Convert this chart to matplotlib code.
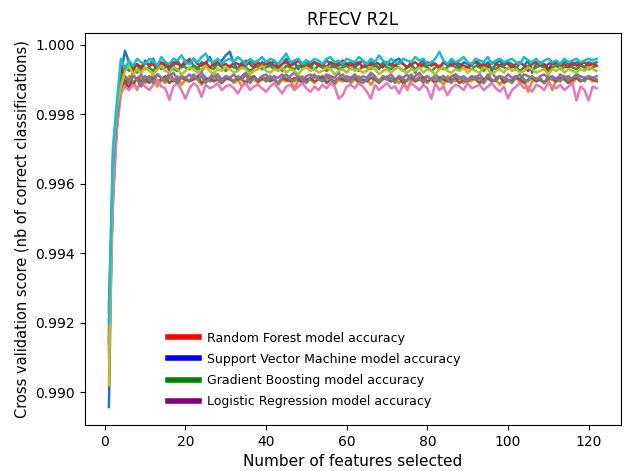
import matplotlib.pyplot as plt
import numpy as np
from matplotlib.lines import Line2D

# number of features selected, 1..122
n_features = np.arange(1, 123)

# RFECV cv scores per fold
fold_0 = [0.98957, 0.99660, 0.99810, 0.99920, 0.99983, 0.99950, 0.99930, 0.99945, 0.99920, 0.99955,
          0.99940, 0.99960, 0.99930, 0.99945, 0.99950, 0.99925, 0.99940, 0.99955, 0.99935, 0.99945,
          0.99960, 0.99940, 0.99930, 0.99950, 0.99945, 0.99965, 0.99940, 0.99950, 0.99955, 0.99970,
          0.99980, 0.99945, 0.99930, 0.99950, 0.99940, 0.99955, 0.99945, 0.99935, 0.99950, 0.99945,
          0.99940, 0.99955, 0.99935, 0.99945, 0.99960, 0.99940, 0.99950, 0.99930, 0.99945, 0.99955,
          0.99935, 0.99950, 0.99945, 0.99940, 0.99955, 0.99945, 0.99935, 0.99950, 0.99940, 0.99945,
          0.99950, 0.99935, 0.99945, 0.99955, 0.99940, 0.99950, 0.99945, 0.99930, 0.99950, 0.99945,
          0.99940, 0.99955, 0.99960, 0.99945, 0.99935, 0.99950, 0.99920, 0.99945, 0.99955, 0.99940,
          0.99950, 0.99945, 0.99930, 0.99950, 0.99940, 0.99955, 0.99945, 0.99935, 0.99950, 0.99945,
          0.99940, 0.99960, 0.99945, 0.99935, 0.99950, 0.99925, 0.99945, 0.99955, 0.99940, 0.99950,
          0.99945, 0.99930, 0.99950, 0.99940, 0.99955, 0.99920, 0.99945, 0.99950, 0.99935, 0.99945,
          0.99950, 0.99940, 0.99930, 0.99955, 0.99945, 0.99940, 0.99950, 0.99945, 0.99935, 0.99950,
          0.99945, 0.99950]
fold_1 = [0.99120, 0.99620, 0.99760, 0.99900, 0.99880, 0.99910, 0.99895, 0.99870, 0.99905, 0.99890,
          0.99900, 0.99915, 0.99880, 0.99900, 0.99890, 0.99905, 0.99895, 0.99910, 0.99885, 0.99900,
          0.99895, 0.99910, 0.99900, 0.99885, 0.99905, 0.99895, 0.99900, 0.99915, 0.99890, 0.99900,
          0.99905, 0.99890, 0.99900, 0.99880, 0.99895, 0.99910, 0.99900, 0.99890, 0.99905, 0.99895,
          0.99900, 0.99910, 0.99885, 0.99900, 0.99895, 0.99905, 0.99870, 0.99900, 0.99910, 0.99895,
          0.99900, 0.99890, 0.99905, 0.99895, 0.99900, 0.99910, 0.99885, 0.99900, 0.99895, 0.99905,
          0.99890, 0.99900, 0.99910, 0.99895, 0.99900, 0.99885, 0.99905, 0.99895, 0.99900, 0.99910,
          0.99895, 0.99900, 0.99890, 0.99905, 0.99870, 0.99900, 0.99895, 0.99910, 0.99900, 0.99890,
          0.99905, 0.99895, 0.99900, 0.99885, 0.99910, 0.99900, 0.99895, 0.99905, 0.99890, 0.99900,
          0.99895, 0.99910, 0.99900, 0.99890, 0.99905, 0.99895, 0.99900, 0.99885, 0.99905, 0.99895,
          0.99900, 0.99910, 0.99890, 0.99900, 0.99865, 0.99895, 0.99905, 0.99900, 0.99890, 0.99900,
          0.99870, 0.99900, 0.99895, 0.99910, 0.99900, 0.99890, 0.99905, 0.99895, 0.99900, 0.99905,
          0.99895, 0.99900]
fold_2 = [0.99150, 0.99640, 0.99790, 0.99905, 0.99940, 0.99925, 0.99935, 0.99920, 0.99940, 0.99930,
          0.99935, 0.99925, 0.99940, 0.99930, 0.99935, 0.99945, 0.99930, 0.99925, 0.99940, 0.99935,
          0.99930, 0.99940, 0.99935, 0.99925, 0.99940, 0.99935, 0.99930, 0.99945, 0.99935, 0.99925,
          0.99940, 0.99935, 0.99930, 0.99940, 0.99935, 0.99925, 0.99935, 0.99940, 0.99930, 0.99935,
          0.99940, 0.99930, 0.99935, 0.99925, 0.99940, 0.99935, 0.99930, 0.99940, 0.99935, 0.99945,
          0.99935, 0.99930, 0.99940, 0.99935, 0.99925, 0.99935, 0.99940, 0.99930, 0.99935, 0.99940,
          0.99930, 0.99935, 0.99925, 0.99940, 0.99935, 0.99930, 0.99940, 0.99935, 0.99945, 0.99935,
          0.99930, 0.99940, 0.99935, 0.99925, 0.99935, 0.99940, 0.99930, 0.99935, 0.99940, 0.99935,
          0.99925, 0.99935, 0.99940, 0.99930, 0.99935, 0.99945, 0.99935, 0.99930, 0.99940, 0.99935,
          0.99930, 0.99940, 0.99935, 0.99925, 0.99940, 0.99935, 0.99930, 0.99940, 0.99935, 0.99930,
          0.99940, 0.99935, 0.99925, 0.99935, 0.99940, 0.99930, 0.99935, 0.99940, 0.99935, 0.99925,
          0.99935, 0.99940, 0.99930, 0.99935, 0.99940, 0.99935, 0.99930, 0.99940, 0.99935, 0.99930,
          0.99935, 0.99940]
fold_3 = [0.99230, 0.99550, 0.99800, 0.99950, 0.99900, 0.99870, 0.99930, 0.99945, 0.99935, 0.99950,
          0.99940, 0.99945, 0.99930, 0.99950, 0.99940, 0.99935, 0.99950, 0.99945, 0.99940, 0.99955,
          0.99950, 0.99960, 0.99945, 0.99940, 0.99950, 0.99935, 0.99945, 0.99950, 0.99940, 0.99945,
          0.99935, 0.99950, 0.99945, 0.99940, 0.99955, 0.99945, 0.99935, 0.99950, 0.99940, 0.99945,
          0.99950, 0.99940, 0.99935, 0.99945, 0.99950, 0.99940, 0.99945, 0.99955, 0.99940, 0.99935,
          0.99945, 0.99950, 0.99940, 0.99945, 0.99935, 0.99950, 0.99945, 0.99940, 0.99955, 0.99945,
          0.99940, 0.99945, 0.99950, 0.99935, 0.99945, 0.99940, 0.99950, 0.99945, 0.99935, 0.99950,
          0.99945, 0.99940, 0.99950, 0.99945, 0.99935, 0.99945, 0.99950, 0.99940, 0.99945, 0.99950,
          0.99940, 0.99945, 0.99935, 0.99950, 0.99945, 0.99940, 0.99950, 0.99945, 0.99940, 0.99935,
          0.99945, 0.99950, 0.99940, 0.99945, 0.99935, 0.99950, 0.99945, 0.99940, 0.99950, 0.99945,
          0.99935, 0.99945, 0.99950, 0.99940, 0.99925, 0.99945, 0.99950, 0.99940, 0.99945, 0.99930,
          0.99945, 0.99950, 0.99940, 0.99945, 0.99935, 0.99950, 0.99940, 0.99945, 0.99950, 0.99940,
          0.99945, 0.99940]
fold_4 = [0.99180, 0.99600, 0.99780, 0.99870, 0.99905, 0.99890, 0.99910, 0.99900, 0.99915, 0.99895,
          0.99910, 0.99900, 0.99915, 0.99905, 0.99895, 0.99910, 0.99920, 0.99900, 0.99910, 0.99905,
          0.99915, 0.99900, 0.99910, 0.99920, 0.99905, 0.99895, 0.99910, 0.99915, 0.99900, 0.99910,
          0.99905, 0.99915, 0.99900, 0.99910, 0.99920, 0.99905, 0.99910, 0.99895, 0.99910, 0.99915,
          0.99900, 0.99910, 0.99905, 0.99915, 0.99900, 0.99910, 0.99920, 0.99905, 0.99895, 0.99910,
          0.99915, 0.99905, 0.99910, 0.99900, 0.99915, 0.99910, 0.99905, 0.99920, 0.99900, 0.99910,
          0.99905, 0.99915, 0.99900, 0.99910, 0.99905, 0.99920, 0.99910, 0.99895, 0.99910, 0.99905,
          0.99915, 0.99900, 0.99910, 0.99905, 0.99915, 0.99900, 0.99910, 0.99920, 0.99905, 0.99910,
          0.99900, 0.99915, 0.99905, 0.99910, 0.99895, 0.99910, 0.99915, 0.99905, 0.99910, 0.99900,
          0.99910, 0.99905, 0.99915, 0.99900, 0.99910, 0.99920, 0.99905, 0.99910, 0.99900, 0.99915,
          0.99905, 0.99910, 0.99900, 0.99915, 0.99910, 0.99905, 0.99895, 0.99910, 0.99915, 0.99905,
          0.99910, 0.99900, 0.99915, 0.99905, 0.99910, 0.99900, 0.99915, 0.99910, 0.99905, 0.99910,
          0.99905, 0.99910]
fold_5 = [0.99140, 0.99580, 0.99770, 0.99880, 0.99895, 0.99900, 0.99885, 0.99905, 0.99895, 0.99900,
          0.99890, 0.99905, 0.99895, 0.99900, 0.99910, 0.99890, 0.99900, 0.99895, 0.99905, 0.99900,
          0.99895, 0.99900, 0.99910, 0.99890, 0.99900, 0.99905, 0.99895, 0.99900, 0.99890, 0.99905,
          0.99900, 0.99895, 0.99905, 0.99900, 0.99890, 0.99900, 0.99910, 0.99895, 0.99900, 0.99905,
          0.99895, 0.99900, 0.99890, 0.99905, 0.99900, 0.99895, 0.99905, 0.99900, 0.99890, 0.99900,
          0.99905, 0.99895, 0.99900, 0.99910, 0.99890, 0.99900, 0.99895, 0.99905, 0.99900, 0.99895,
          0.99900, 0.99905, 0.99890, 0.99900, 0.99895, 0.99905, 0.99900, 0.99890, 0.99905, 0.99900,
          0.99895, 0.99900, 0.99905, 0.99890, 0.99900, 0.99910, 0.99895, 0.99900, 0.99905, 0.99895,
          0.99900, 0.99890, 0.99905, 0.99900, 0.99895, 0.99900, 0.99905, 0.99890, 0.99900, 0.99895,
          0.99905, 0.99900, 0.99890, 0.99900, 0.99905, 0.99895, 0.99900, 0.99910, 0.99890, 0.99900,
          0.99895, 0.99905, 0.99900, 0.99890, 0.99900, 0.99905, 0.99895, 0.99900, 0.99890, 0.99905,
          0.99900, 0.99895, 0.99905, 0.99900, 0.99890, 0.99900, 0.99905, 0.99895, 0.99900, 0.99905,
          0.99900, 0.99895]
fold_6 = [0.99100, 0.99540, 0.99760, 0.99860, 0.99880, 0.99870, 0.99885, 0.99875, 0.99890, 0.99880,
          0.99870, 0.99885, 0.99900, 0.99880, 0.99875, 0.99842, 0.99880, 0.99890, 0.99870, 0.99845,
          0.99875, 0.99890, 0.99880, 0.99850, 0.99885, 0.99875, 0.99880, 0.99890, 0.99870, 0.99880,
          0.99885, 0.99875, 0.99860, 0.99880, 0.99890, 0.99870, 0.99880, 0.99885, 0.99875, 0.99865,
          0.99880, 0.99890, 0.99875, 0.99860, 0.99880, 0.99885, 0.99870, 0.99880, 0.99890, 0.99875,
          0.99865, 0.99880, 0.99870, 0.99885, 0.99875, 0.99890, 0.99880, 0.99845, 0.99855, 0.99880,
          0.99885, 0.99875, 0.99890, 0.99880, 0.99865, 0.99845, 0.99885, 0.99870, 0.99880, 0.99890,
          0.99875, 0.99880, 0.99860, 0.99885, 0.99875, 0.99890, 0.99880, 0.99870, 0.99885, 0.99875,
          0.99845, 0.99890, 0.99870, 0.99880, 0.99855, 0.99875, 0.99885, 0.99880, 0.99870, 0.99890,
          0.99875, 0.99880, 0.99885, 0.99870, 0.99880, 0.99890, 0.99875, 0.99865, 0.99880, 0.99845,
          0.99870, 0.99880, 0.99890, 0.99875, 0.99880, 0.99865, 0.99885, 0.99880, 0.99870, 0.99890,
          0.99880, 0.99875, 0.99885, 0.99870, 0.99880, 0.99890, 0.99840, 0.99880, 0.99870, 0.99840,
          0.99880, 0.99875]
fold_7 = [0.99250, 0.99650, 0.99790, 0.99890, 0.99910, 0.99895, 0.99915, 0.99900, 0.99880, 0.99910,
          0.99900, 0.99890, 0.99915, 0.99905, 0.99895, 0.99920, 0.99900, 0.99890, 0.99910, 0.99905,
          0.99895, 0.99915, 0.99900, 0.99910, 0.99890, 0.99905, 0.99920, 0.99900, 0.99895, 0.99910,
          0.99905, 0.99895, 0.99910, 0.99900, 0.99915, 0.99890, 0.99905, 0.99900, 0.99910, 0.99895,
          0.99910, 0.99900, 0.99890, 0.99905, 0.99915, 0.99900, 0.99895, 0.99910, 0.99905, 0.99890,
          0.99905, 0.99915, 0.99900, 0.99895, 0.99910, 0.99900, 0.99890, 0.99905, 0.99915, 0.99900,
          0.99895, 0.99910, 0.99905, 0.99890, 0.99900, 0.99915, 0.99905, 0.99895, 0.99910, 0.99900,
          0.99905, 0.99890, 0.99910, 0.99900, 0.99895, 0.99915, 0.99900, 0.99905, 0.99890, 0.99910,
          0.99900, 0.99905, 0.99895, 0.99910, 0.99900, 0.99890, 0.99915, 0.99905, 0.99900, 0.99895,
          0.99910, 0.99900, 0.99905, 0.99890, 0.99915, 0.99900, 0.99895, 0.99910, 0.99905, 0.99900,
          0.99890, 0.99905, 0.99915, 0.99900, 0.99895, 0.99910, 0.99900, 0.99905, 0.99890, 0.99910,
          0.99900, 0.99905, 0.99895, 0.99910, 0.99900, 0.99905, 0.99915, 0.99900, 0.99895, 0.99910,
          0.99905, 0.99900]
fold_8 = [0.99020, 0.99680, 0.99820, 0.99880, 0.99925, 0.99940, 0.99915, 0.99930, 0.99920, 0.99935,
          0.99925, 0.99915, 0.99930, 0.99940, 0.99925, 0.99920, 0.99935, 0.99930, 0.99915, 0.99925,
          0.99935, 0.99930, 0.99920, 0.99930, 0.99940, 0.99925, 0.99915, 0.99930, 0.99925, 0.99935,
          0.99930, 0.99920, 0.99925, 0.99935, 0.99930, 0.99915, 0.99925, 0.99930, 0.99940, 0.99925,
          0.99920, 0.99930, 0.99925, 0.99935, 0.99920, 0.99930, 0.99925, 0.99915, 0.99930, 0.99935,
          0.99925, 0.99930, 0.99920, 0.99925, 0.99935, 0.99930, 0.99915, 0.99925, 0.99930, 0.99920,
          0.99935, 0.99925, 0.99930, 0.99920, 0.99925, 0.99935, 0.99930, 0.99915, 0.99925, 0.99930,
          0.99920, 0.99930, 0.99935, 0.99925, 0.99920, 0.99930, 0.99925, 0.99935, 0.99920, 0.99930,
          0.99925, 0.99915, 0.99930, 0.99935, 0.99925, 0.99920, 0.99930, 0.99925, 0.99935, 0.99920,
          0.99930, 0.99925, 0.99920, 0.99935, 0.99930, 0.99915, 0.99925, 0.99930, 0.99920, 0.99935,
          0.99925, 0.99930, 0.99920, 0.99925, 0.99935, 0.99930, 0.99920, 0.99925, 0.99930, 0.99915,
          0.99930, 0.99925, 0.99935, 0.99920, 0.99930, 0.99925, 0.99920, 0.99930, 0.99925, 0.99935,
          0.99930, 0.99925]
fold_9 = [0.99200, 0.99704, 0.99840, 0.99960, 0.99930, 0.99955, 0.99940, 0.99960, 0.99950, 0.99945,
          0.99960, 0.99955, 0.99940, 0.99965, 0.99950, 0.99945, 0.99960, 0.99955, 0.99970, 0.99950,
          0.99945, 0.99960, 0.99950, 0.99965, 0.99975, 0.99955, 0.99950, 0.99960, 0.99945, 0.99955,
          0.99960, 0.99950, 0.99965, 0.99955, 0.99945, 0.99960, 0.99950, 0.99955, 0.99965, 0.99950,
          0.99960, 0.99955, 0.99945, 0.99960, 0.99975, 0.99950, 0.99955, 0.99960, 0.99945, 0.99955,
          0.99950, 0.99960, 0.99955, 0.99945, 0.99960, 0.99965, 0.99950, 0.99955, 0.99945, 0.99960,
          0.99955, 0.99950, 0.99965, 0.99955, 0.99945, 0.99960, 0.99950, 0.99970, 0.99955, 0.99945,
          0.99960, 0.99950, 0.99945, 0.99960, 0.99955, 0.99950, 0.99965, 0.99955, 0.99960, 0.99945,
          0.99950, 0.99960, 0.99980, 0.99955, 0.99945, 0.99960, 0.99950, 0.99955, 0.99965, 0.99950,
          0.99945, 0.99960, 0.99955, 0.99950, 0.99965, 0.99945, 0.99955, 0.99960, 0.99950, 0.99955,
          0.99960, 0.99950, 0.99945, 0.99965, 0.99955, 0.99950, 0.99960, 0.99945, 0.99955, 0.99960,
          0.99950, 0.99955, 0.99945, 0.99960, 0.99950, 0.99955, 0.99960, 0.99950, 0.99955, 0.99960,
          0.99955, 0.99960]

folds = [fold_0, fold_1, fold_2, fold_3, fold_4, fold_5, fold_6, fold_7, fold_8, fold_9]

legend_labels = ['Random Forest model accuracy', 'Support Vector Machine model accuracy',
                 'Gradient Boosting model accuracy', 'Logistic Regression model accuracy']
legend_colors = ['red', 'blue', 'green', 'purple']

fig = plt.figure(figsize=(6.26, 4.71), dpi=100)
ax = fig.add_axes([0.135, 0.098, 0.857, 0.832])

for f in folds:
    ax.plot(n_features, f, linewidth=1.8)

ax.set_title('RFECV R2L', fontsize=12)
ax.set_xlabel('Number of features selected', fontsize=11)
ax.set_ylabel('Cross validation score (nb of correct classifications)', fontsize=10.5)
ax.set_xticks([0, 20, 40, 60, 80, 100, 120])
ax.set_yticks([0.990, 0.992, 0.994, 0.996, 0.998, 1.000])
ax.tick_params(labelsize=10)

handles = [Line2D([0], [0], color=c, linewidth=4) for c in legend_colors]
ax.legend(handles, legend_labels, loc='lower left', frameon=False, fontsize=9,
          bbox_to_anchor=(0.146, 0.03), borderaxespad=0, handlelength=2.5,
          handletextpad=0.6, labelspacing=0.65)

plt.savefig('out.png', dpi=100)
